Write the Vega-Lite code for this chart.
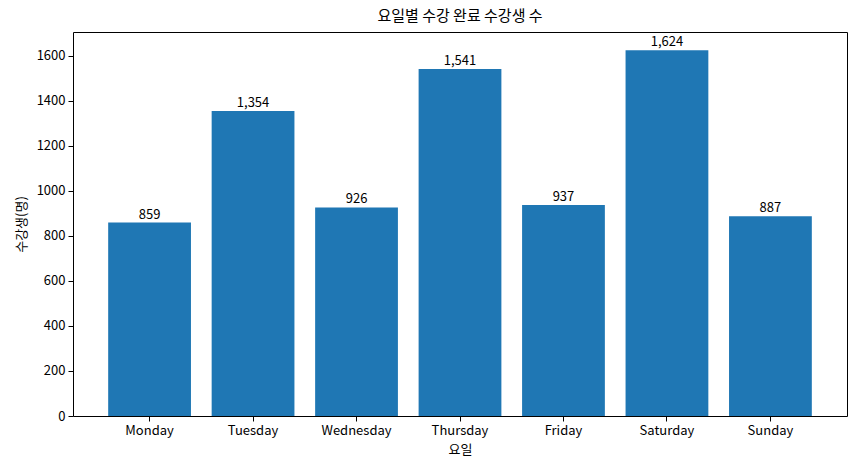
{
  "$schema": "https://vega.github.io/schema/vega-lite/v6.json",
  "autosize": "none",
  "padding": {"left": 73, "top": 32, "right": 9, "bottom": 53},
  "width": 774,
  "height": 384,
  "title": {"text": "요일별 수강 완료 수강생 수", "fontSize": 15, "fontWeight": "normal", "offset": 8, "color": "#000"},
  "data": {
    "values": [
      {"day": "Monday", "count": 859},
      {"day": "Tuesday", "count": 1354},
      {"day": "Wednesday", "count": 926},
      {"day": "Thursday", "count": 1541},
      {"day": "Friday", "count": 937},
      {"day": "Saturday", "count": 1624},
      {"day": "Sunday", "count": 887}
    ]
  },
  "encoding": {
    "x": {
      "field": "day",
      "type": "nominal",
      "sort": null,
      "scale": {"paddingInner": 0.2, "paddingOuter": 0.34},
      "axis": {"title": "요일", "labelAngle": 0, "titlePadding": 6}
    },
    "y": {
      "field": "count",
      "type": "quantitative",
      "scale": {"domain": [0, 1705], "nice": false},
      "axis": {"title": "수강생(명)", "values": [0, 200, 400, 600, 800, 1000, 1200, 1400, 1600], "format": "d", "titlePadding": 8}
    }
  },
  "layer": [
    {"mark": {"type": "bar", "color": "#1f77b4"}},
    {
      "mark": {"type": "text", "baseline": "bottom", "dy": -1, "fontSize": 13, "font": "Noto Sans CJK KR", "color": "#000"},
      "encoding": {"text": {"field": "count", "type": "quantitative", "format": ","}}
    }
  ],
  "config": {
    "font": "Noto Sans CJK KR",
    "view": {"stroke": "#000", "strokeWidth": 1},
    "axis": {
      "grid": false,
      "domain": false,
      "tickColor": "#000",
      "tickSize": 5,
      "labelFontSize": 13,
      "labelColor": "#000",
      "labelPadding": 3,
      "titleFontSize": 13,
      "titleFontWeight": "normal",
      "titleColor": "#000"
    }
  }
}
